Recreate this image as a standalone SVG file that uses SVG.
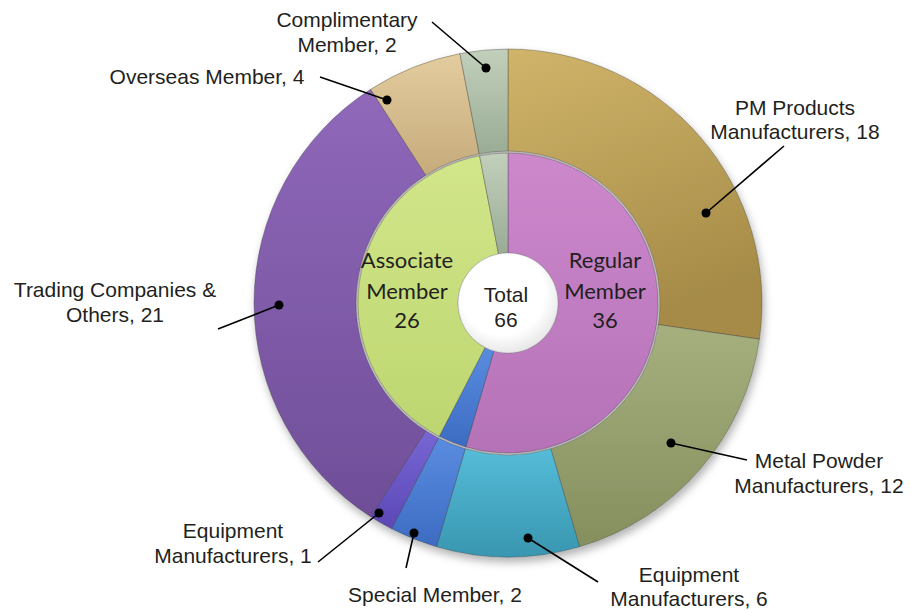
<svg xmlns="http://www.w3.org/2000/svg" width="911" height="613" viewBox="0 0 911 613">
<defs>
<style>
.lbl{font-family:"Liberation Sans",Arial,sans-serif;font-size:21px;fill:#231f20;text-anchor:middle}
.in{font-family:Lato,"Liberation Sans",sans-serif;font-size:22px;fill:#231f20;text-anchor:middle}
.seg{stroke:#3a3a3a;stroke-opacity:0.35;stroke-width:1}
.lead{stroke:#000;stroke-width:1.6;fill:none}
.dot{fill:#000}
</style>
<filter id="sh" x="-10%" y="-10%" width="120%" height="125%">
<feDropShadow dx="2" dy="5" stdDeviation="4" flood-color="#000" flood-opacity="0.3"/>
</filter>
<linearGradient id="gPM" x1="0" y1="0" x2="0.3" y2="1"><stop offset="0" stop-color="#d0b46a"/><stop offset="1" stop-color="#a58b47"/></linearGradient>
<linearGradient id="gMP" x1="0" y1="0" x2="0" y2="1"><stop offset="0" stop-color="#a5b07e"/><stop offset="1" stop-color="#858f5e"/></linearGradient>
<linearGradient id="gEQ6" x1="0" y1="0" x2="0" y2="1"><stop offset="0" stop-color="#55bcd8"/><stop offset="1" stop-color="#3996b0"/></linearGradient>
<linearGradient id="gSP" x1="0" y1="0" x2="0" y2="1"><stop offset="0" stop-color="#5a8ce0"/><stop offset="1" stop-color="#3c6cc2"/></linearGradient>
<linearGradient id="gEQ1" x1="0" y1="0" x2="0" y2="1"><stop offset="0" stop-color="#7766d4"/><stop offset="1" stop-color="#5c48b6"/></linearGradient>
<linearGradient id="gTR" x1="0" y1="0" x2="0" y2="1"><stop offset="0" stop-color="#9068ba"/><stop offset="1" stop-color="#6f4e98"/></linearGradient>
<linearGradient id="gOV" x1="0" y1="0" x2="0" y2="1"><stop offset="0" stop-color="#e3cc9e"/><stop offset="1" stop-color="#c6ab7c"/></linearGradient>
<linearGradient id="gCM" x1="0" y1="0" x2="0" y2="1"><stop offset="0" stop-color="#c2d0bb"/><stop offset="1" stop-color="#9aac95"/></linearGradient>
<linearGradient id="gRG" x1="0" y1="0" x2="0" y2="1"><stop offset="0" stop-color="#cd88cc"/><stop offset="1" stop-color="#b572b7"/></linearGradient>
<linearGradient id="gAS" x1="0" y1="0" x2="0" y2="1"><stop offset="0" stop-color="#d2e68a"/><stop offset="1" stop-color="#bdd670"/></linearGradient>
<radialGradient id="gHole" cx="0.45" cy="0.4" r="0.6"><stop offset="0.7" stop-color="#ffffff"/><stop offset="1" stop-color="#e8e8e8"/></radialGradient>
</defs>
<rect width="911" height="613" fill="#ffffff"/>
<g id="chart" filter="url(#sh)">
<g id="pm-products">
<path class="seg" fill="url(#gPM)" d="M508,49 A254,254 0 0 1 759.42,339.14 L658.45,324.63 A152,152 0 0 0 508,151 Z"/>
</g>
<g id="metal-powder">
<path class="seg" fill="url(#gMP)" d="M759.42,339.14 A254,254 0 0 1 579.53,546.72 L550.81,448.85 A152,152 0 0 0 658.45,324.63 Z"/>
</g>
<g id="equipment-6">
<path class="seg" fill="url(#gEQ6)" d="M579.53,546.72 A254,254 0 0 1 436.47,546.72 L465.19,448.85 A152,152 0 0 0 550.81,448.85 Z"/>
</g>
<g id="special-outer">
<path class="seg" fill="url(#gSP)" d="M436.47,546.72 A254,254 0 0 1 391.63,528.77 L438.36,438.11 A152,152 0 0 0 465.19,448.85 Z"/>
</g>
<g id="equipment-1">
<path class="seg" fill="url(#gEQ1)" d="M391.63,528.77 A254,254 0 0 1 370.68,516.68 L425.82,430.87 A152,152 0 0 0 438.36,438.11 Z"/>
</g>
<g id="trading">
<path class="seg" fill="url(#gTR)" d="M370.68,516.68 A254,254 0 0 1 370.68,89.32 L425.82,175.13 A152,152 0 0 0 425.82,430.87 Z"/>
</g>
<g id="overseas">
<path class="seg" fill="url(#gOV)" d="M370.68,89.32 A254,254 0 0 1 459.93,53.59 L479.23,153.75 A152,152 0 0 0 425.82,175.13 Z"/>
</g>
<g id="complimentary-outer">
<path class="seg" fill="url(#gCM)" d="M459.93,53.59 A254,254 0 0 1 508,49 L508,151 A152,152 0 0 0 479.23,153.75 Z"/>
</g>
<g id="regular">
<path class="seg" fill="url(#gRG)" d="M508,153 A150,150 0 1 1 465.76,446.93 L493.92,350.98 A50,50 0 1 0 508,253 Z"/>
</g>
<g id="special-inner">
<path class="seg" fill="url(#gSP)" d="M465.76,446.93 A150,150 0 0 1 439.28,436.33 L485.09,347.44 A50,50 0 0 0 493.92,350.98 Z"/>
</g>
<g id="associate">
<path class="seg" fill="url(#gAS)" d="M439.28,436.33 A150,150 0 0 1 479.61,155.71 L498.54,253.90 A50,50 0 0 0 485.09,347.44 Z"/>
</g>
<g id="complimentary-inner">
<path class="seg" fill="url(#gCM)" d="M479.61,155.71 A150,150 0 0 1 508,153 L508,253 A50,50 0 0 0 498.54,253.90 Z"/>
</g>
<g id="total">
<circle cx="508" cy="303" r="50" fill="url(#gHole)" stroke="#999" stroke-opacity="0.4" stroke-width="1"/>
</g>
</g>
<g id="inner-labels">
<text class="in" x="407" y="268">Associate</text>
<text class="in" x="407" y="299">Member</text>
<text class="in" x="407" y="328">26</text>
<text class="in" x="605" y="268">Regular</text>
<text class="in" x="605" y="299">Member</text>
<text class="in" x="605" y="328">36</text>
<text class="lbl" x="506" y="302">Total</text>
<text class="lbl" x="506" y="327">66</text>
</g>
<g id="connectors">
<line class="lead" x1="486" y1="68" x2="432" y2="22"/>
<line class="lead" x1="387" y1="100" x2="320" y2="77"/>
<line class="lead" x1="279" y1="305" x2="218" y2="329"/>
<line class="lead" x1="379" y1="513" x2="318" y2="562"/>
<line class="lead" x1="414" y1="533" x2="406" y2="568"/>
<line class="lead" x1="528" y1="538" x2="598" y2="582"/>
<line class="lead" x1="671" y1="443" x2="747" y2="460"/>
<line class="lead" x1="706" y1="213" x2="784" y2="146"/>
<circle class="dot" cx="486" cy="68" r="4.5"/>
<circle class="dot" cx="387" cy="100" r="4.5"/>
<circle class="dot" cx="279" cy="305" r="4.5"/>
<circle class="dot" cx="379" cy="513" r="4.5"/>
<circle class="dot" cx="414" cy="533" r="4.5"/>
<circle class="dot" cx="528" cy="538" r="4.5"/>
<circle class="dot" cx="671" cy="443" r="4.5"/>
<circle class="dot" cx="706" cy="213" r="4.5"/>
</g>
<g id="outer-labels">
<text class="lbl" x="347" y="27">Complimentary</text>
<text class="lbl" x="347" y="52">Member, 2</text>
<text class="lbl" x="207" y="84">Overseas Member, 4</text>
<text class="lbl" x="795" y="115">PM Products</text>
<text class="lbl" x="795" y="139">Manufacturers, 18</text>
<text class="lbl" x="115" y="297">Trading Companies &amp;</text>
<text class="lbl" x="115" y="322">Others, 21</text>
<text class="lbl" x="819" y="468">Metal Powder</text>
<text class="lbl" x="819" y="493">Manufacturers, 12</text>
<text class="lbl" x="233" y="538">Equipment</text>
<text class="lbl" x="233" y="563">Manufacturers, 1</text>
<text class="lbl" x="435" y="602">Special Member, 2</text>
<text class="lbl" x="689" y="582">Equipment</text>
<text class="lbl" x="689" y="606">Manufacturers, 6</text>
</g>
</svg>
